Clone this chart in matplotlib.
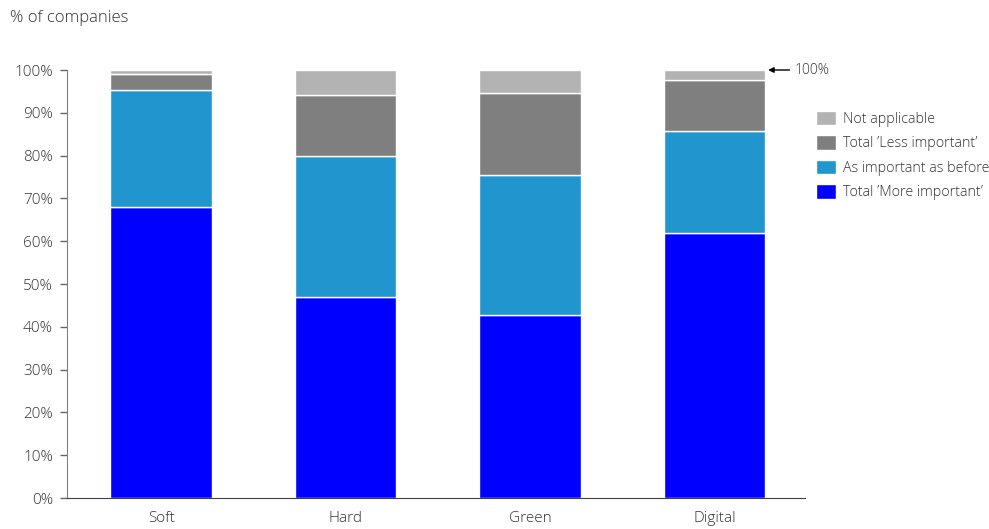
import matplotlib
matplotlib.use("Agg")
import matplotlib.pyplot as plt
import numpy as np

categories = ["Soft", "Hard", "Green", "Digital"]
more_important = [68.0, 47.0, 42.8, 61.9]
as_important = [27.3, 32.9, 32.7, 23.8]
less_important = [3.8, 14.3, 19.1, 12.0]
not_applicable = [0.9, 5.8, 5.4, 2.3]
y_ticks = [0, 10, 20, 30, 40, 50, 60, 70, 80, 90, 100]

series = [
    ("Total \u2019More important\u2019", more_important, "#0000FF"),
    ("As important as before", as_important, "#2196CE"),
    ("Total \u2019Less important\u2019", less_important, "#7F7F7F"),
    ("Not applicable", not_applicable, "#B3B3B3"),
]

plt.rcParams["font.family"] = ["Open Sans", "DejaVu Sans"]
plt.rcParams["font.weight"] = "light"
fig = plt.figure(figsize=(9.89, 5.29), dpi=100)
ax = fig.add_axes([67 / 989, 31 / 529, (805 - 67) / 989, (498 - 70) / 529])

x = np.arange(len(categories))
bottom = np.zeros(len(categories))
handles = []
for label, vals, color in series:
    b = ax.bar(x, vals, width=0.55, bottom=bottom, color=color,
               edgecolor="white", linewidth=1.0, label=label)
    handles.append(b)
    bottom += np.array(vals)

ax.set_xlim(-0.51, 3.49)
ax.set_ylim(0, 100)
ax.set_yticks(y_ticks)
ax.set_yticklabels([f"{t}%" for t in y_ticks], fontsize=11, color="#333333")
ax.set_xticks(x)
ax.set_xticklabels(categories, fontsize=11, color="#333333")
ax.tick_params(axis="x", length=0, pad=9)
ax.tick_params(axis="y", length=5, color="#666666", width=1, pad=5)
for s in ["top", "right"]:
    ax.spines[s].set_visible(False)
ax.spines["left"].set_color("#808080")
ax.spines["bottom"].set_color("#404040")

fig.text(10 / 989, 1 - 18 / 529, "% of companies", fontsize=12, color="#333333",
         va="center", ha="left")

ax.annotate("100%", xy=(3 + 0.29, 100), xytext=(795 / 989, 100),
            textcoords=("figure fraction", "data"),
            fontsize=10, color="#333333", va="center", ha="left",
            arrowprops=dict(arrowstyle="-|>", color="black", lw=1,
                            shrinkA=2, shrinkB=0, mutation_scale=8))

leg = fig.legend(handles[::-1], [s[0] for s in series][::-1],
                 loc="upper left", bbox_to_anchor=(810 / 989, 1 - 105 / 529),
                 frameon=False, fontsize=10.3, handlelength=1.4, handleheight=1.2,
                 handletextpad=0.5, labelspacing=0.58, borderaxespad=0)
for t in leg.get_texts():
    t.set_color("#333333")

fig.savefig("out.png", dpi=100)
